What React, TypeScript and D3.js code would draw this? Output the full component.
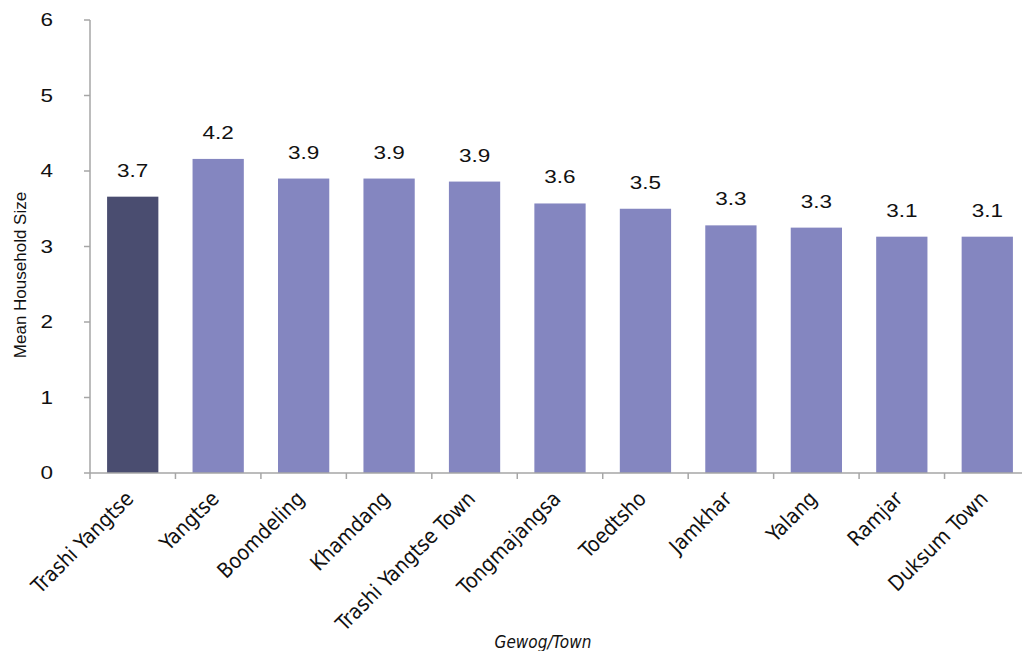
import React from "react";
import * as d3 from "d3";

const categories = ["Trashi Yangtse", "Yangtse", "Boomdeling", "Khamdang", "Trashi Yangtse Town", "Tongmajangsa", "Toedtsho", "Jamkhar", "Yalang", "Ramjar", "Duksum Town"];
const values = [3.66, 4.16, 3.9, 3.9, 3.86, 3.57, 3.5, 3.28, 3.25, 3.13, 3.13];
const labels = ["3.7", "4.2", "3.9", "3.9", "3.9", "3.6", "3.5", "3.3", "3.3", "3.1", "3.1"];
const yTicks = [0, 1, 2, 3, 4, 5, 6];

export default function App() {
  const W = 1022, H = 651;
  const left = 90, right = 1030, top = 20, bottom = 473;
  const x = d3.scaleBand<string>().domain(categories).range([left, right]).paddingInner(0.4).paddingOuter(0.2);
  const y = d3.scaleLinear().domain([0, 6]).range([bottom, top]);
  const step = x.step();
  const labelFont = "'DejaVu Sans Condensed', sans-serif";
  const numFont = "'Liberation Sans', Arial, sans-serif";
  return (
    <svg width={W} height={H} style={{ position: "absolute", left: 0, top: 0, background: "#fff" }}>
      {/* bars */}
      {categories.map((c, i) => (
        <rect key={c} x={x(c)} y={y(values[i])} width={x.bandwidth()} height={bottom - y(values[i])}
          fill={i === 0 ? "#4a4d70" : "#8486c0"} />
      ))}
      {/* value labels */}
      {categories.map((c, i) => (
        <text key={"v" + c} transform={`translate(${(x(c) as number) + x.bandwidth() / 2},${y(values[i]) - 20}) scale(1.25,1)`}
          textAnchor="middle" fontFamily={numFont} fontSize={18} fill="#111">{labels[i]}</text>
      ))}
      {/* y axis */}
      <line x1={left} x2={left} y1={top} y2={bottom} stroke="#a6a6a6" strokeWidth={1.5} />
      {yTicks.map(t => (
        <g key={"y" + t}>
          <line x1={left - 6} x2={left} y1={y(t)} y2={y(t)} stroke="#a6a6a6" strokeWidth={1.5} />
          <text transform={`translate(53,${y(t)}) scale(1.25,1)`} dy="0.35em" textAnchor="end" fontFamily={numFont} fontSize={18} fill="#111">{t}</text>
        </g>
      ))}
      {/* x axis */}
      <line x1={left} x2={W} y1={bottom} y2={bottom} stroke="#a6a6a6" strokeWidth={1.5} />
      {d3.range(categories.length + 1).map(i => (
        <line key={"xt" + i} x1={left + i * step} x2={left + i * step} y1={bottom} y2={bottom + 6} stroke="#a6a6a6" strokeWidth={1.5} />
      ))}
      {categories.map(c => {
        const cx = (x(c) as number) + x.bandwidth() / 2 + 2;
        const cy = bottom + 27;
        return (
          <text key={"xl" + c} transform={`translate(${cx},${cy}) rotate(-45)`} textAnchor="end"
            fontFamily={labelFont} fontSize={21} fill="#111">{c}</text>
        );
      })}
      {/* axis titles */}
      <text transform={`translate(26,275) rotate(-90)`} textAnchor="middle" fontFamily={numFont} fontSize={17} fill="#111">Mean Household Size</text>
      <text x={543} y={648} textAnchor="middle" fontFamily={labelFont} fontStyle="italic" fontSize={17} fill="#111">Gewog/Town</text>
    </svg>
  );
}
